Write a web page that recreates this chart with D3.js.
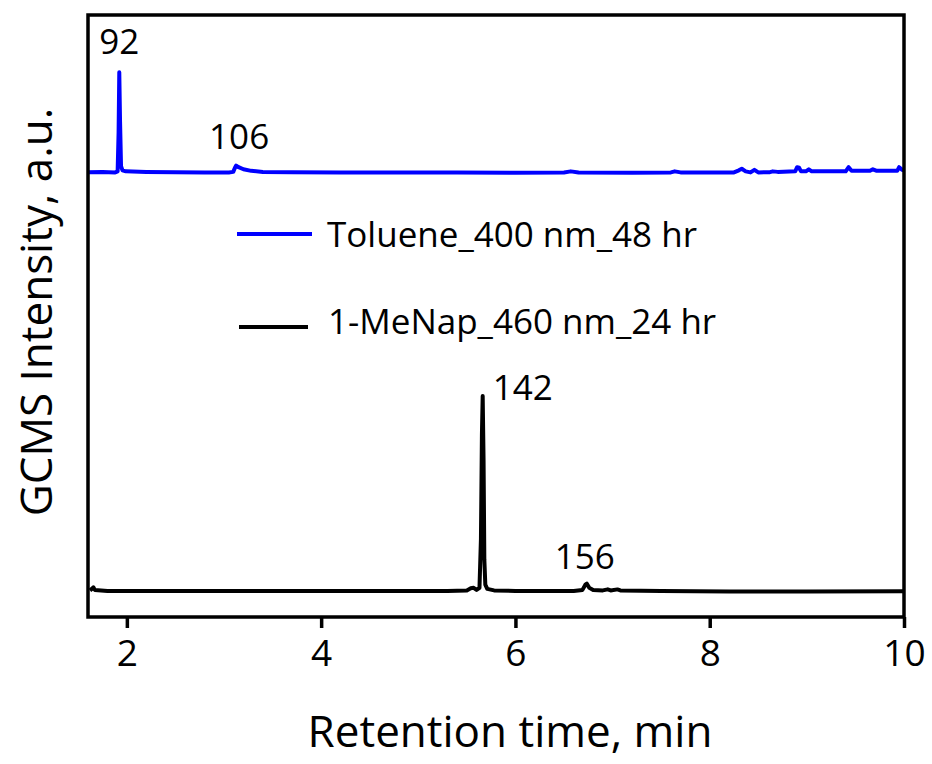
<!DOCTYPE html>
<html>
<head>
<meta charset="utf-8">
<script src="https://d3js.org/d3.v7.min.js"></script>
<style>
  body { margin: 0; background: #fff; }
  text { font-family: "Open Sans", sans-serif; fill: #000; }
</style>
</head>
<body>
<svg id="chart" width="932" height="764"></svg>

<script>
// retention time (min), intensity (a.u., toluene trace offset upward)
const toluene = [
  [1.60, 80.35], [1.75, 80.4], [1.88, 80.3], [1.905, 80.5], [1.915, 88], [1.922, 99.5],
  [1.93, 90], [1.94, 81.5], [1.955, 80.7], [1.99, 80.5], [2.2, 80.4], [2.5, 80.35],
  [2.8, 80.3], [3.05, 80.3], [3.095, 80.4], [3.115, 81.3], [3.125, 81.6], [3.15, 81.3],
  [3.2, 80.9], [3.28, 80.6], [3.4, 80.4], [3.7, 80.35], [4.2, 80.3], [4.8, 80.3],
  [5.4, 80.3], [6.0, 80.25], [6.5, 80.3], [6.57, 80.5], [6.65, 80.3], [7.2, 80.25],
  [7.6, 80.3], [7.64, 80.5], [7.7, 80.3], [8.25, 80.3], [8.30, 80.7], [8.33, 81.0],
  [8.37, 80.5], [8.42, 80.3], [8.46, 80.8], [8.5, 80.3], [8.62, 80.35], [8.65, 80.5],
  [8.7, 80.4], [8.88, 80.5], [8.9, 81.3], [8.92, 81.2], [8.94, 80.5], [8.99, 80.5],
  [9.02, 80.9], [9.05, 80.5], [9.4, 80.5], [9.43, 81.3], [9.46, 80.6], [9.65, 80.6],
  [9.68, 80.9], [9.72, 80.6], [9.93, 80.6], [9.95, 81.3], [9.98, 80.8], [10.0, 80.7]
];

const meNap = [
  [1.62, 0.1], [1.64, 0.4], [1.655, 0.7], [1.67, 0.2], [1.8, 0.0], [2.5, 0.0],
  [3.5, 0.0], [4.5, 0.0], [5.3, 0.0], [5.5, 0.1], [5.54, 0.5], [5.57, 0.6],
  [5.6, 0.2], [5.63, 0.6], [5.645, 10], [5.655, 30], [5.663, 37.4], [5.672, 25],
  [5.68, 6], [5.69, 1.2], [5.71, 0.4], [5.78, 0.1], [6.0, 0.0], [6.6, 0.0],
  [6.69, 0.2], [6.72, 1.2], [6.735, 1.4], [6.76, 0.6], [6.8, 0.2], [6.9, 0.1],
  [6.95, 0.3], [6.98, 0.1], [7.05, 0.3], [7.08, 0.1], [7.5, 0.0], [8.2, -0.1],
  [9.0, -0.1], [10.0, -0.05]
];

const seriesNames = ["Toluene_400 nm_48 hr", "1-MeNap_460 nm_24 hr"];
const seriesColors = ["#0000ff", "#000000"];

// peak labels: [time, intensity, label]
const peakLabels = [
  [1.922, 99.5, "92"],
  [3.125, 81.6, "106"],
  [5.663, 37.4, "142"],
  [6.735, 1.4, "156"]
];

const xTicks = [2, 4, 6, 8, 10];

const svg = d3.select("#chart");
const plotL = 88, plotR = 904, plotT = 15, plotB = 617;

const x = d3.scaleLinear().domain([1.6, 10]).range([plotL, plotR]);
const y = d3.scaleLinear().domain([-5, 110.5]).range([plotB, plotT]);

const line = d3.line().x(d => x(d[0])).y(d => y(d[1]));

// traces
[toluene, meNap].forEach((data, i) => {
  svg.append("path")
     .datum(data)
     .attr("d", line)
     .attr("fill", "none")
     .attr("stroke", seriesColors[i])
     .attr("stroke-width", 4)
     .attr("stroke-linejoin", "round");
});

// frame
svg.append("rect")
   .attr("x", plotL).attr("y", plotT)
   .attr("width", plotR - plotL).attr("height", plotB - plotT)
   .attr("fill", "none").attr("stroke", "#000").attr("stroke-width", 3.5);

// x axis
const xAxis = svg.append("g")
   .attr("transform", `translate(0,${plotB})`)
   .call(d3.axisBottom(x).tickValues(xTicks).tickSize(11).tickSizeOuter(0).tickPadding(12));
xAxis.select(".domain").remove();
xAxis.selectAll(".tick line").attr("stroke", "#000").attr("stroke-width", 3.5);
xAxis.selectAll(".tick text")
     .style("font-family", "'Open Sans', sans-serif")
     .attr("font-size", 37).attr("fill", "#000");

// axis titles
svg.append("text")
   .attr("x", 510).attr("y", 747)
   .attr("text-anchor", "middle")
   .attr("font-size", 44)
   .text("Retention time, min");

svg.append("text")
   .attr("transform", "translate(52,312) rotate(-90)")
   .attr("text-anchor", "middle")
   .attr("font-size", 44)
   .text("GCMS Intensity, a.u.");

// peak labels
const labelPos = [
  { dx: 0, dy: -18, anchor: "middle" },
  { dx: 3, dy: -17, anchor: "middle" },
  { dx: 10, dy: 4, anchor: "start" },
  { dx: -2, dy: -15, anchor: "middle" }
];
peakLabels.forEach((p, i) => {
  svg.append("text")
     .attr("x", x(p[0]) + labelPos[i].dx)
     .attr("y", y(p[1]) + labelPos[i].dy)
     .attr("text-anchor", labelPos[i].anchor)
     .attr("font-size", 35)
     .text(p[2]);
});

// legend
const legendRows = [
  { y: 234, x1: 237, x2: 312, tx: 327, ty: 247 },
  { y: 327, x1: 239, x2: 308, tx: 328, ty: 334 }
];
seriesNames.forEach((name, i) => {
  const r = legendRows[i];
  svg.append("line")
     .attr("x1", r.x1).attr("x2", r.x2)
     .attr("y1", r.y).attr("y2", r.y)
     .attr("stroke", seriesColors[i]).attr("stroke-width", 4);
  svg.append("text")
     .attr("x", r.tx).attr("y", r.ty)
     .attr("font-size", 35)
     .text(name);
});
</script>
</body>
</html>
